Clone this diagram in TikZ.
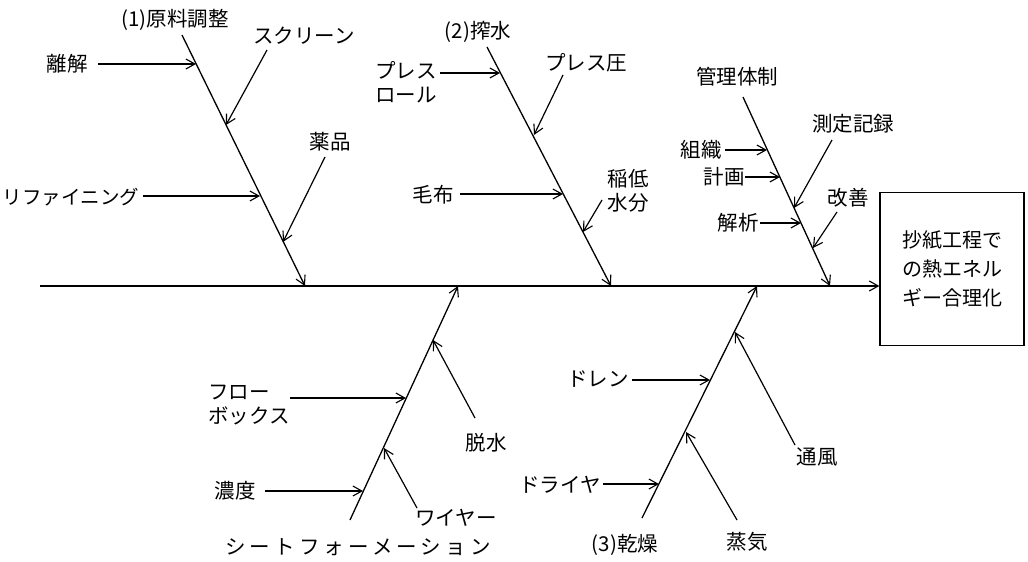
\documentclass[tikz,border=0pt]{standalone}
\usepackage{fontspec}
\setmainfont{Noto Sans CJK JP}
\usetikzlibrary{arrows.meta}
\tikzset{
  lbl/.style={inner sep=0pt, font=\fontsize{20.5}{24}\selectfont, align=left},
  bone/.style={line width=1.3pt, -{Straight Barb[length=9pt,width=10pt,line width=1.1pt]}},
  rib/.style={line width=1.2pt, -{Straight Barb[length=9pt,width=10pt,line width=1.1pt]}},
  goalbox/.style={draw, line width=1.3pt, minimum width=144pt, minimum height=153pt, inner sep=0pt, align=center, font=\fontsize{20}{29}\selectfont}
}
\begin{document}
\begin{tikzpicture}[x=1pt,y=-1pt]
\useasboundingbox (0,0) rectangle (1028,562);
% goal box and spine
\node[goalbox] (goal) at (952,269) {抄紙工程で\\の熱エネル\\ギー合理化};
\coordinate (s0) at (40,286);
\draw[bone] (s0) -- (s0 -| goal.west);

% ---------- branch 1 ----------
\coordinate (b1s) at (182,35);
\coordinate (b1e) at (305,286);
\node[lbl] (t1) at (175,20) {(1)原料調整};
\draw[bone] (b1s) -- (b1e);
\node[lbl] (l11) at (67,64) {離解};
\coordinate (a11) at (98,64); \coordinate (e11) at (196,64);
\draw[rib] (a11) -- (e11);
\node[lbl] (l12) at (304,36) {スクリーン};
\coordinate (a12) at (267,50); \coordinate (e12) at (226,125);
\draw[rib] (a12) -- (e12);
\node[lbl] (l13) at (330,142) {薬品};
\coordinate (a13) at (325,157); \coordinate (e13) at (283,242);
\draw[rib] (a13) -- (e13);
\node[lbl, font=\fontsize{19.5}{24}\selectfont] (l14) at (71,197) {リファイニング};
\coordinate (a14) at (143,196); \coordinate (e14) at (260,196);
\draw[rib] (a14) -- (e14);

% ---------- branch 2 ----------
\coordinate (b2s) at (487,47);
\coordinate (b2e) at (611,286);
\node[lbl] (t2) at (478,32) {(2)搾水};
\draw[bone] (b2s) -- (b2e);
\node[lbl] (l21) at (406,82) {プレス\\ロール};
\coordinate (a21) at (440,73); \coordinate (e21) at (500,73);
\draw[rib] (a21) -- (e21);
\node[lbl] (l22) at (586,63) {プレス圧};
\coordinate (a22) at (563,75); \coordinate (e22) at (534,135);
\draw[rib] (a22) -- (e22);
\node[lbl] (l23) at (433,195) {毛布};
\coordinate (a23) at (460,194); \coordinate (e23) at (563,194);
\draw[rib] (a23) -- (e23);
\node[lbl] (l24) at (628,191) {稲低\\水分};
\coordinate (a24) at (602,200); \coordinate (e24) at (583,232);
\draw[rib] (a24) -- (e24);

% ---------- branch 3 ----------
\coordinate (b3s) at (743,97);
\coordinate (b3e) at (830,286);
\node[lbl] (t3) at (737,77) {管理体制};
\draw[bone] (b3s) -- (b3e);
\node[lbl] (l31) at (701,150) {組織};
\coordinate (a31) at (725,150); \coordinate (e31) at (767,150);
\draw[rib] (a31) -- (e31);
\node[lbl] (l32) at (724,177) {計画};
\coordinate (a32) at (745,177); \coordinate (e32) at (780,177);
\draw[rib] (a32) -- (e32);
\node[lbl] (l33) at (738,223) {解析};
\coordinate (a33) at (760,223); \coordinate (e33) at (801,223);
\draw[rib] (a33) -- (e33);
\node[lbl] (l34) at (853,124) {測定記録};
\coordinate (a34) at (832,140); \coordinate (e34) at (794,208);
\draw[rib] (a34) -- (e34);
\node[lbl] (l35) at (848,198) {改善};
\coordinate (a35) at (837,212); \coordinate (e35) at (813,248);
\draw[rib] (a35) -- (e35);

% ---------- branch 4 ----------
\coordinate (b4s) at (350,520);
\coordinate (b4e) at (458,286);
\node[lbl] (t4) at (358,547) {\addfontfeatures{LetterSpace=20}シートフォーメーション};
\draw[bone] (b4s) -- (b4e);
\node[lbl] (l41) at (249,405) {フロー\\ボックス};
\coordinate (a41) at (290,398); \coordinate (e41) at (406,398);
\draw[rib] (a41) -- (e41);
\node[lbl] (l42) at (235,491) {濃度};
\coordinate (a42) at (265,491); \coordinate (e42) at (363,491);
\draw[rib] (a42) -- (e42);
\node[lbl] (l43) at (486,443) {脱水};
\coordinate (a43) at (475,418); \coordinate (e43) at (433,340);
\draw[rib] (a43) -- (e43);
\node[lbl] (l44) at (456,518) {ワイヤー};
\coordinate (a44) at (417,508); \coordinate (e44) at (384,448);
\draw[rib] (a44) -- (e44);

% ---------- branch 5 ----------
\coordinate (b5s) at (642,518);
\coordinate (b5e) at (757,286);
\node[lbl] (t5) at (625,545) {(3)乾燥};
\draw[bone] (b5s) -- (b5e);
\node[lbl] (l51) at (598,379) {ドレン};
\coordinate (a51) at (632,380); \coordinate (e51) at (710,380);
\draw[rib] (a51) -- (e51);
\node[lbl] (l52) at (560,485) {ドライヤ};
\coordinate (a52) at (603,484); \coordinate (e52) at (659,484);
\draw[rib] (a52) -- (e52);
\node[lbl] (l53) at (747,542) {蒸気};
\coordinate (a53) at (737,520); \coordinate (e53) at (686,432);
\draw[rib] (a53) -- (e53);
\node[lbl] (l54) at (817,457) {通風};
\coordinate (a54) at (795,445); \coordinate (e54) at (735,332);
\draw[rib] (a54) -- (e54);
\end{tikzpicture}
\end{document}
